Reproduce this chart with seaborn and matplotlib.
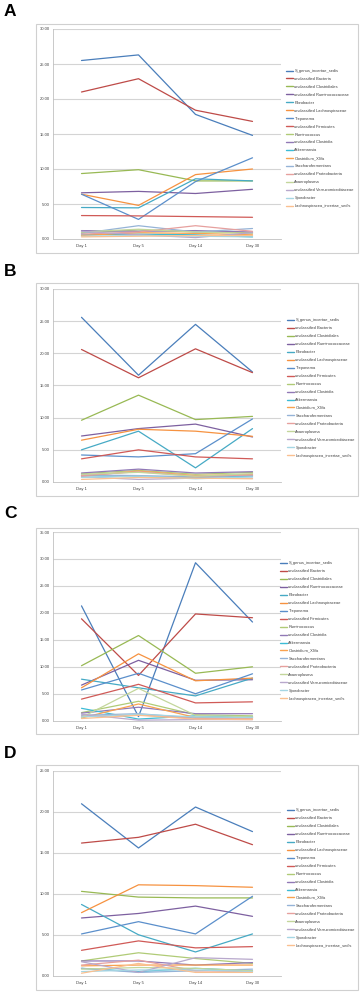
import matplotlib
matplotlib.use("Agg")
import matplotlib.pyplot as plt
import seaborn as sns
import pandas as pd
from matplotlib.patches import Rectangle

days = ["Day 1", "Day 5", "Day 14", "Day 30"]
taxa = ["S_genus_incertae_sedis", "unclassified Bacteria", "unclassified Clostridiales",
        "unclassified Ruminococcaceae", "Fibrobacter", "unclassified Lachnospiraceae",
        "Treponema", "unclassified Firmicutes", "Ruminococcus", "unclassified Clostridia",
        "Akkermansia", "Clostridium_XlVa", "Saccharofermentans", "unclassified Proteobacteria",
        "Anaeroplasma", "unclassified Verrucomicrobiaceae", "Sporobacter",
        "Lachnospiracea_incertae_sedis"]

values_A = [
    [25.5, 26.3, 17.8, 14.8],
    [21.0, 22.9, 18.4, 16.8],
    [9.35, 9.9, 8.3, 8.3],
    [6.6, 6.8, 6.5, 7.1],
    [4.5, 4.45, 8.6, 8.3],
    [6.4, 4.8, 9.2, 10.0],
    [6.4, 2.8, 8.2, 11.6],
    [3.35, 3.3, 3.2, 3.1],
    [0.9, 1.3, 1.0, 0.9],
    [1.2, 1.1, 1.2, 1.0],
    [0.6, 0.7, 0.6, 0.3],
    [0.5, 0.9, 0.8, 0.6],
    [0.8, 1.9, 1.0, 1.5],
    [0.7, 1.0, 1.9, 1.1],
    [1.0, 1.4, 1.0, 0.8],
    [1.1, 0.6, 0.2, 0.9],
    [0.4, 0.5, 0.4, 0.3],
    [0.3, 0.4, 0.5, 0.5],
]
values_B = [
    [25.6, 16.6, 24.5, 17.1],
    [20.6, 16.2, 20.7, 17.0],
    [9.6, 13.5, 9.7, 10.2],
    [7.15, 8.3, 9.0, 7.0],
    [5.0, 7.9, 2.2, 8.3],
    [6.5, 8.2, 7.9, 7.1],
    [4.2, 3.9, 4.4, 9.8],
    [3.6, 5.0, 3.9, 3.6],
    [1.3, 1.8, 1.2, 1.5],
    [1.4, 2.0, 1.4, 1.6],
    [1.0, 0.8, 0.7, 0.9],
    [0.9, 1.7, 1.0, 1.2],
    [1.1, 1.0, 0.8, 1.0],
    [1.0, 1.6, 0.9, 1.1],
    [1.2, 1.5, 0.9, 1.3],
    [0.8, 0.4, 0.6, 0.6],
    [0.7, 0.9, 0.5, 0.8],
    [0.4, 0.7, 0.6, 0.5],
]
values_C = [
    [21.3, 0.75, 29.3, 18.3],
    [18.9, 8.4, 19.8, 19.1],
    [10.2, 15.8, 8.8, 10.0],
    [6.6, 11.2, 7.5, 7.6],
    [7.7, 6.1, 4.6, 7.9],
    [6.1, 12.4, 7.4, 7.9],
    [5.7, 8.8, 5.0, 8.7],
    [4.0, 6.75, 3.3, 3.5],
    [1.5, 3.6, 1.1, 0.9],
    [1.4, 2.5, 1.3, 1.3],
    [2.3, 0.3, 0.9, 0.7],
    [0.5, 3.1, 0.6, 0.5],
    [1.0, 1.3, 0.5, 0.6],
    [0.8, 1.1, 0.4, 0.3],
    [0.6, 6.0, 1.0, 0.7],
    [1.2, 0.1, 0.2, 0.2],
    [0.7, 1.2, 0.7, 0.6],
    [0.4, 1.0, 0.3, 0.2],
]
values_D = [
    [21.0, 15.6, 20.6, 17.6],
    [16.2, 16.9, 18.5, 16.0],
    [10.3, 9.6, 9.5, 9.5],
    [7.05, 7.6, 8.5, 7.25],
    [8.7, 5.0, 2.9, 5.1],
    [7.7, 11.1, 11.0, 10.8],
    [5.1, 6.6, 5.1, 9.7],
    [3.1, 4.25, 3.4, 3.55],
    [1.8, 2.8, 2.1, 1.5],
    [1.8, 1.8, 1.3, 1.6],
    [0.9, 0.5, 0.9, 0.6],
    [1.2, 1.3, 1.3, 1.3],
    [0.9, 0.4, 0.6, 0.8],
    [1.3, 1.9, 0.6, 0.5],
    [0.8, 1.0, 0.9, 0.6],
    [1.7, 0.4, 2.2, 2.0],
    [0.5, 0.7, 0.7, 0.5],
    [0.3, 1.5, 0.4, 0.4],
]

colors = ["#4A7EBB", "#BE4B48", "#98B954", "#7D60A0", "#46AAC5", "#F69240",
          "#5B8FCB", "#D05A57", "#B0CB76", "#9179B6", "#3CBCD6", "#F9A24F",
          "#95B3D7", "#E6A09E", "#C3D69B", "#B8A8CC", "#A5D6E3", "#FAC090"]

sns.set_theme(style="white")
plt.rcParams["font.family"] = ["Liberation Sans", "DejaVu Sans"]

W, H = 361, 992
fig = plt.figure(figsize=(W / 100, H / 100), dpi=100)


def frac(x0, y0, x1, y1):
    return [x0 / W, 1 - y1 / H, (x1 - x0) / W, (y1 - y0) / H]


panels = [
    ("A", values_A, 30, 11, (24, 253), (29, 239), 138.5, 286),
    ("B", values_B, 30, 271, (283, 496), (289, 482), 388, 287),
    ("C", values_C, 35, 513, (528, 734), (532, 720.7), 631, 280),
    ("D", values_D, 25, 753, (765, 990), (771, 975.7), 878, 287),
]

for letter, vals, ymax, ly, box, plot, leg_y, leg_x in panels:
    fig.text(4 / W, 1 - ly / H, letter, fontsize=12.5, fontweight="bold",
             va="center", ha="left", color="black")
    rect = Rectangle((36 / W, 1 - box[1] / H), (358 - 36) / W, (box[1] - box[0]) / H,
                     transform=fig.transFigure, fill=False, edgecolor="#d0d0d0", lw=0.8)
    fig.patches.append(rect)

    ax = fig.add_axes(frac(53, plot[0], 281, plot[1]))
    rows = []
    for t, v in zip(taxa, vals):
        for d, y in zip(days, v):
            rows.append({"day": d, "value": y, "taxon": t})
    df = pd.DataFrame(rows)
    sns.lineplot(data=df, x="day", y="value", hue="taxon", hue_order=taxa,
                 palette=colors, sort=False, lw=0.9, ax=ax, legend=True)
    ax.set_xlim(-0.5, 3.5)
    ax.set_ylim(0, ymax)
    ax.set_yticks(range(0, ymax + 1, 5))
    ax.set_yticklabels([f"{v:.2f}" for v in range(0, ymax + 1, 5)])
    ax.set_xlabel("")
    ax.set_ylabel("")
    ax.grid(False)
    for yv in range(5, ymax + 1, 5):
        ax.axhline(yv, color="#d4d4d4", lw=0.8, zorder=0)
    for s in ["top", "right"]:
        ax.spines[s].set_visible(False)
    for s in ["left", "bottom"]:
        ax.spines[s].set_color("#c0c0c0")
        ax.spines[s].set_linewidth(0.6)
    ax.set_xticks([0.5, 1.5, 2.5], minor=True)
    ax.tick_params(axis="x", which="major", length=0, pad=3.5, labelsize=3, colors="#404040")
    ax.tick_params(axis="x", which="minor", length=1.5, width=0.5, color="#c0c0c0")
    ax.tick_params(axis="y", which="major", length=0, pad=2, labelsize=3, colors="#404040")
    ax.set_facecolor("none")

    handles, labels = ax.get_legend_handles_labels()
    leg = ax.legend(handles, labels, loc="center left",
                    bbox_to_anchor=(leg_x / W, 1 - leg_y / H),
                    bbox_transform=fig.transFigure, frameon=False, fontsize=2.9,
                    labelspacing=0.98, handlelength=1.8, handletextpad=0.3,
                    borderpad=0, borderaxespad=0, title=None)
    for h in leg.get_lines():
        h.set_linewidth(1.0)
    for txt in leg.get_texts():
        txt.set_color("#404040")

fig.savefig("out.png", dpi=100)
